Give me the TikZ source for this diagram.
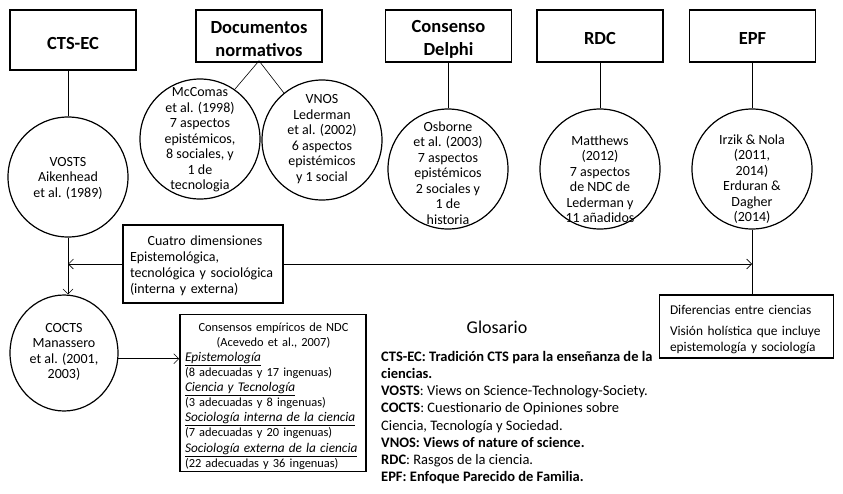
\documentclass[tikz,border=0pt]{standalone}
\usepackage{fontspec}
\setmainfont{Carlito}
\usetikzlibrary{arrows.meta,shapes.geometric}
\newcommand{\hdr}[1]{\underline{\textit{\fontsize{13.3}{15.1}\selectfont #1}}}
\begin{document}
\begin{tikzpicture}[x=1pt,y=-1pt,
  topbox/.style={draw,line width=1.6pt,minimum width=126pt,minimum height=52pt,inner sep=0pt},
  toptext/.style={align=center,inner sep=0pt,font=\bfseries\fontsize{18.5}{23}\selectfont},
  circ/.style={draw,circle,line width=1.2pt,minimum size=120pt,inner sep=0pt},
  ctext/.style={align=center,inner sep=0pt,font=\fontsize{14}{15.5}\selectfont},
  conn/.style={line width=0.6pt},
  arr/.style={line width=0.6pt,-{Straight Barb[length=5pt,width=10pt]}},
  txtbox/.style={draw,line width=1.6pt,inner sep=0pt},
  btext/.style={align=left,inner sep=0pt},
]
\useasboundingbox (0,0) rectangle (843,493);

% top boxes
\node[topbox,minimum height=60pt] (ctsec) at (73,40) {};
\node[toptext] (ctsect) at (73,43) {CTS-EC};
\node[topbox] (doc) at (259,36) {};
\node[toptext] (doct) at (259,39) {Documentos\\normativos};
\node[topbox] (delphi) at (448.5,36) {};
\node[toptext] (delphit) at (448.5,39) {Consenso\\Delphi};
\node[topbox] (rdc) at (600,36) {};
\node[toptext] (rdct) at (600,38.5) {RDC};
\node[topbox] (epfb) at (752.5,36) {};
\node[toptext] (epfbt) at (752.5,38.5) {EPF};

% circles
\node[circ] (vosts) at (68,177) {};
\node[ctext] (vostst) at (68,178) {VOSTS\\Aikenhead\\et al. (1989)};
\node[circ] (mccomas) at (200,139) {};
\node[ctext] (mccomast) at (200,140) {McComas\\et al. (1998)\\7 aspectos\\epistémicos,\\8 sociales, y\\1 de\\tecnologia};
\node[circ] (vnos) at (322,140) {};
\node[ctext] (vnost) at (322,139) {VNOS\\Lederman\\et al. (2002)\\6 aspectos\\epistémicos\\y 1 social};
\node[circ] (osborne) at (448,169) {};
\node[ctext] (osbornet) at (448,173) {Osborne\\et al. (2003)\\7 aspectos\\epistémicos\\2 sociales y\\1 de\\historia};
\node[circ] (matthews) at (600,169) {};
\node[ctext] (matthewst) at (600,179) {Matthews\\(2012)\\7 aspectos\\de NDC de\\Lederman y\\11 añadidos};
\node[circ] (epfc) at (752,169) {};
\node[ctext] (epfct) at (752,179) {Irzik \& Nola\\(2011,\\2014)\\Erduran \&\\Dagher\\(2014)};
\node[draw,ellipse,line width=1.2pt,minimum width=108pt,minimum height=116pt,inner sep=0pt] (cocts) at (64,353) {};
\node[ctext] (coctst) at (64,352) {COCTS\\Manassero\\et al. (2001,\\2003)};

% top connectors
\draw[conn] (vosts.north |- ctsec.south) -- (vosts.north);
\coordinate (apex) at ([yshift=2pt]doc.south);
\draw[conn] (mccomas.55) -- (apex) -- (vnos.129);
\draw[conn] (osborne.north |- delphi.south) -- (osborne.north);
\draw[conn] (matthews.north |- rdc.south) -- (matthews.north);
\draw[conn] (epfc.north |- epfb.south) -- (epfc.north);

% middle box
\node[txtbox,minimum width=160pt,minimum height=78pt] (cuatro) at (203,264) {};
\node[btext,text width=150pt,font=\fontsize{14}{16}\selectfont] (cuatrot) at (205,266)
  {\makebox[\hsize][c]{Cuatro dimensiones}\\Epistemológica,\\tecnológica y sociológica\\(interna y externa)};

% right box
\node[txtbox,minimum width=174pt,minimum height=63pt] (dif) at (746.5,326.5) {};
\node[btext,text width=162pt,font=\fontsize{13.4}{16}\selectfont] (dift) at (751,330)
  {Diferencias entre ciencias\\[5pt]Visión holística que incluye\\epistemología y sociología};

% bottom box
\node[txtbox,minimum width=186pt,minimum height=157pt] (cons) at (273,393) {};
\node[btext,text width=177pt,font=\fontsize{12.4}{15.1}\selectfont] (const) at (273.5,396)
  {\makebox[\hsize][c]{Consensos empíricos de NDC}\\
   \makebox[\hsize][c]{(Acevedo et al., 2007)}\\
   \hdr{Epistemología}\\
   (8 adecuadas y 17 ingenuas)\\
   \hdr{Ciencia y Tecnología}\\
   (3 adecuadas y 8 ingenuas)\\
   \hdr{Sociología interna de la ciencia}\\
   (7 adecuadas y 20 ingenuas)\\
   \hdr{Sociología externa de la ciencia}\\
   (22 adecuadas y 36 ingenuas)};

% arrows
\draw[arr] (vosts.south) -- (vosts.south |- cocts.north);
\draw[arr] (cuatro.west) -- (cuatro.west -| vosts.south);
\draw[arr] (cuatro.east) -- (cuatro.east -| epfc.south);
\draw[conn] (epfc.south) -- (epfc.south |- dif.north);
\draw[arr] (cocts.-6) -- (cocts.-6 -| cons.west);

% glossary
\node[font=\fontsize{18}{22}\selectfont,inner sep=0pt] (glos) at (497,327) {Glosario};
\node[anchor=north west,align=left,inner sep=0pt,font=\fontsize{14.5}{17.2}\selectfont] (glosent) at (381,351)
  {\textbf{CTS-EC: Tradición CTS para la enseñanza de la}\\
   \textbf{ciencias.}\\
   \textbf{VOSTS}: Views on Science-Technology-Society.\\
   \textbf{COCTS}: Cuestionario de Opiniones sobre\\
   Ciencia, Tecnología y Sociedad.\\
   \textbf{VNOS: Views of nature of science.}\\
   \textbf{RDC}: Rasgos de la ciencia.\\
   \textbf{EPF: Enfoque Parecido de Familia.}};
\end{tikzpicture}
\end{document}
